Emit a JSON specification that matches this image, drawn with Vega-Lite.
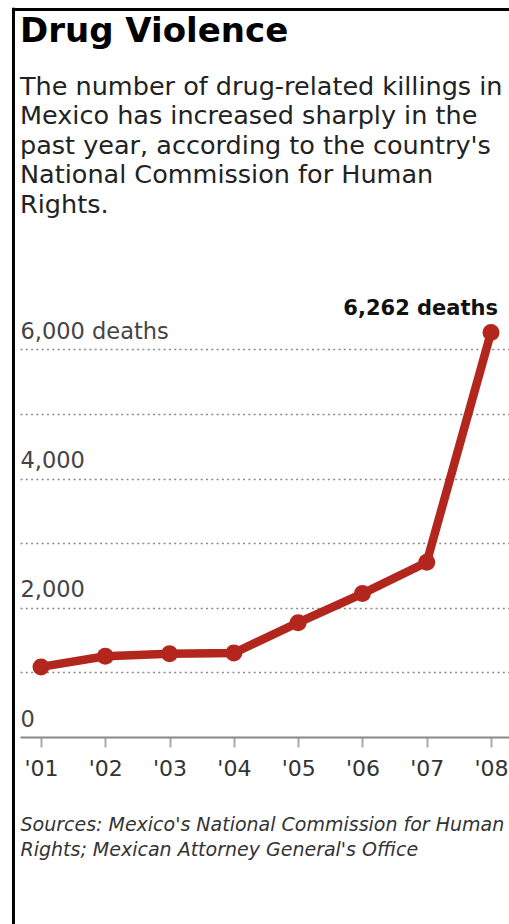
{
  "$schema": "https://vega.github.io/schema/vega-lite/v6.json",
  "width": 489,
  "height": 728,
  "autosize": {"type": "none"},
  "padding": {"left": 20, "top": 9, "right": 0, "bottom": 187},
  "background": "white",
  "config": {"view": {"stroke": null}, "font": "DejaVu Sans"},
  "title": {
    "text": "Drug Violence",
    "subtitle": [
      "The number of drug-related killings in",
      "Mexico has increased sharply in the",
      "past year, according to the country's",
      "National Commission for Human",
      "Rights."
    ],
    "anchor": "start",
    "frame": "group",
    "orient": "top",
    "offset": -212,
    "font": "DejaVu Sans",
    "fontSize": 34,
    "fontWeight": "bold",
    "color": "#000000",
    "subtitleFont": "DejaVu Sans",
    "subtitleFontSize": 25.5,
    "subtitleColor": "#222222",
    "subtitleLineHeight": 29.5,
    "subtitlePadding": 26
  },
  "data": {
    "values": [
      {"year": 2001, "deaths": 1085},
      {"year": 2002, "deaths": 1250},
      {"year": 2003, "deaths": 1290},
      {"year": 2004, "deaths": 1300},
      {"year": 2005, "deaths": 1770},
      {"year": 2006, "deaths": 2220},
      {"year": 2007, "deaths": 2705},
      {"year": 2008, "deaths": 6262}
    ]
  },
  "layer": [
    {
      "mark": {
        "type": "line",
        "color": "#b3261e",
        "strokeWidth": 8.5,
        "point": {"size": 290, "filled": true, "color": "#b3261e", "opacity": 1}
      },
      "encoding": {
        "x": {
          "field": "year",
          "type": "quantitative",
          "scale": {"domain": [2000.6733, 2008.28], "nice": false, "zero": false},
          "axis": {
            "values": [2001, 2002, 2003, 2004, 2005, 2006, 2007, 2008],
            "labelExpr": "\"'0\" + (datum.value - 2000)",
            "grid": false,
            "domainColor": "#888888",
            "domainWidth": 2,
            "tickColor": "#aaaaaa",
            "tickWidth": 2,
            "tickSize": 10,
            "labelFont": "DejaVu Sans",
            "labelFontSize": 22,
            "labelColor": "#333333",
            "labelPadding": 11,
            "labelFlush": false,
            "labelOverlap": false,
            "title": ["Sources: Mexico's National Commission for Human", "Rights; Mexican Attorney General's Office"],
            "titleFont": "DejaVu Sans",
            "titleFontStyle": "italic",
            "titleFontWeight": "normal",
            "titleFontSize": 19,
            "titleColor": "#333333",
            "titleLineHeight": 25,
            "titleAnchor": "start",
            "titleAlign": "left",
            "titlePadding": 36
          }
        },
        "y": {
          "field": "deaths",
          "type": "quantitative",
          "scale": {"domain": [0, 11270], "nice": false},
          "axis": {
            "values": [0, 1000, 2000, 3000, 4000, 5000, 6000],
            "labelExpr": "datum.value == 6000 ? '6,000 deaths' : (datum.value % 2000 == 0 ? datum.label : '')",
            "domain": false,
            "ticks": false,
            "tickSize": 0,
            "labelPadding": 0,
            "labelAlign": "left",
            "labelBaseline": "alphabetic",
            "labelOffset": -11,
            "labelFont": "DejaVu Sans",
            "labelFontSize": 22.5,
            "labelColor": "#444444",
            "labelFlush": false,
            "labelOverlap": false,
            "grid": true,
            "gridColor": "#8a8a8a",
            "gridDash": [2, 3.3],
            "gridWidth": 1.5,
            "gridOpacity": {"condition": {"test": "datum.value == 0", "value": 0}, "value": 1},
            "title": null
          }
        }
      }
    },
    {
      "data": {"values": [{}]},
      "mark": {"type": "rule", "color": "#000000", "strokeWidth": 3},
      "encoding": {
        "x": {"datum": 2000.572, "type": "quantitative"},
        "y": {"datum": 11290, "type": "quantitative"},
        "y2": {"datum": -2940}
      }
    },
    {
      "data": {"values": [{}]},
      "mark": {"type": "rule", "color": "#000000", "strokeWidth": 3},
      "encoding": {
        "x": {"datum": 2000.55, "type": "quantitative"},
        "x2": {"datum": 2008.6},
        "y": {"datum": 11262, "type": "quantitative"}
      }
    },
    {
      "data": {"values": [{}]},
      "mark": {
        "type": "text",
        "text": "6,262 deaths",
        "font": "DejaVu Sans",
        "fontWeight": "bold",
        "fontSize": 21,
        "align": "right",
        "baseline": "alphabetic",
        "dx": 7,
        "dy": -17.5,
        "color": "#111111"
      },
      "encoding": {
        "x": {"datum": 2008, "type": "quantitative"},
        "y": {"datum": 6262, "type": "quantitative"}
      }
    }
  ]
}
